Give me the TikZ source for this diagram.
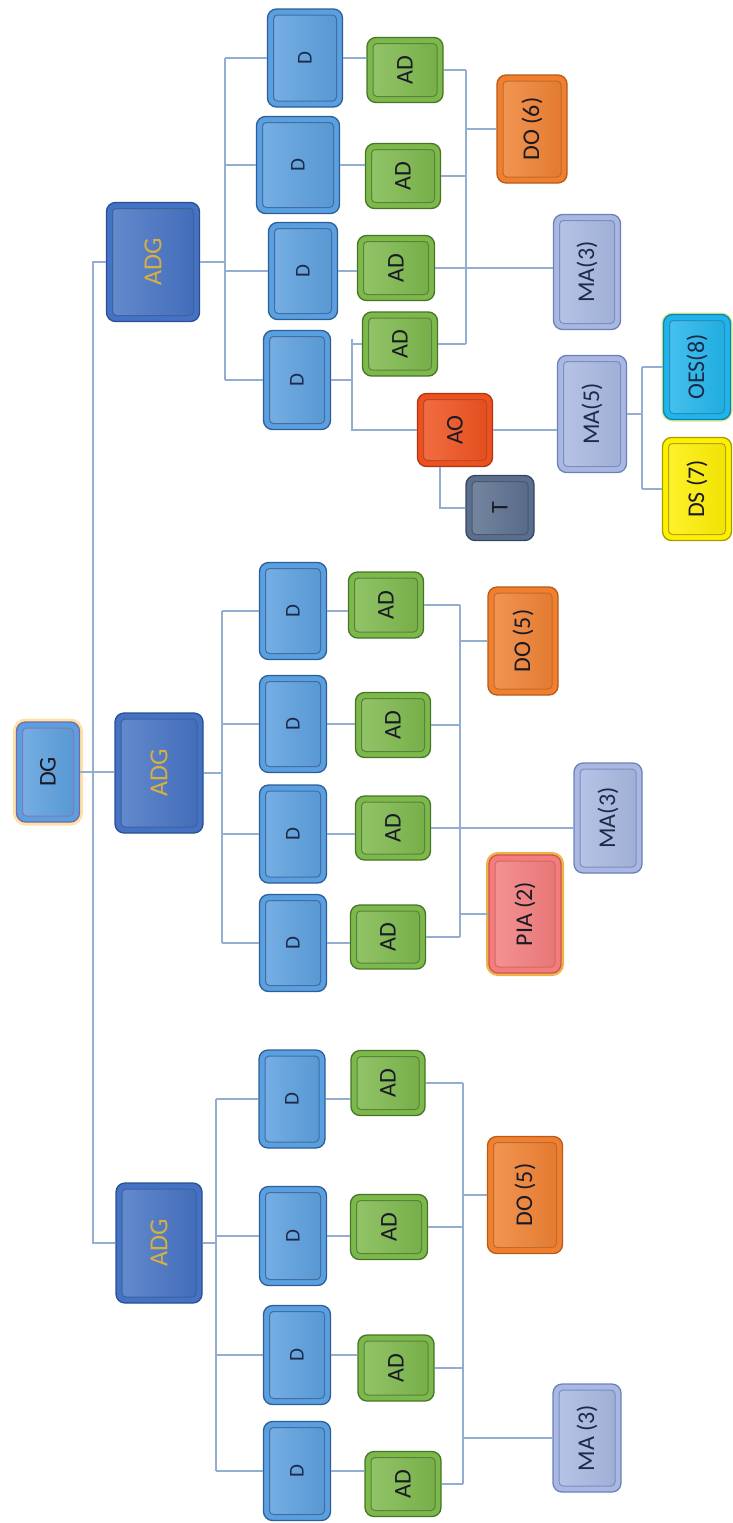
\documentclass[tikz,border=0pt]{standalone}
\usepackage{fontspec}
\setmainfont{Carlito}
\usepackage{graphicx}
\definecolor{lineblue}{HTML}{93AED1}
\definecolor{dfill}{HTML}{5A9FDF}
\definecolor{ddark}{HTML}{2E5E96}
\definecolor{gfill}{HTML}{7CB84A}
\definecolor{gdark}{HTML}{467528}
\definecolor{afill}{HTML}{4472C4}
\definecolor{adark}{HTML}{2B4F8F}
\definecolor{gold}{HTML}{D8B040}
\definecolor{dgborder}{HTML}{7B68A8}
\definecolor{dgglow}{HTML}{FFE2A8}
\definecolor{ofill}{HTML}{F08030}
\definecolor{odark}{HTML}{B85A18}
\definecolor{mfill}{HTML}{A8B8E2}
\definecolor{mdark}{HTML}{6E80B8}
\definecolor{pfill}{HTML}{F47C7C}
\definecolor{pdark}{HTML}{C85A50}
\definecolor{pglow}{HTML}{F2B048}
\definecolor{rfill}{HTML}{F0501C}
\definecolor{rdark}{HTML}{A83818}
\definecolor{tfill}{HTML}{5A6E8E}
\definecolor{tdark}{HTML}{36465F}
\definecolor{cfill}{HTML}{1FB5EC}
\definecolor{cdark}{HTML}{1080B0}
\definecolor{cglow}{HTML}{D8E890}
\definecolor{yfill}{HTML}{FFF000}
\definecolor{ydark}{HTML}{A89A00}
\definecolor{txt}{HTML}{1A1A24}
\definecolor{dtxt}{HTML}{1C2A4A}
\newcommand\rlab[1]{\rotatebox{90}{#1}}
\tikzset{
  bx/.style n args={4}{rectangle, rounded corners=9pt, draw=#2, line width=1.3pt,
    fill=#1, minimum width=#3pt, minimum height=#4pt, inner sep=0pt, text=txt,
    font=\fontsize{24}{26}\selectfont,
    path picture={
      \shade[rounded corners=4pt, left color=#1!82!white, right color=#1!94!black]
        ([shift={(6pt,-6pt)}]path picture bounding box.north west) rectangle
        ([shift={(-6pt,6pt)}]path picture bounding box.south east);
      \draw[rounded corners=4pt, #2!90, line width=1pt]
        ([shift={(6pt,-6pt)}]path picture bounding box.north west) rectangle
        ([shift={(-6pt,6pt)}]path picture bounding box.south east);
    }},
  dbox/.style 2 args={bx={dfill}{ddark}{#1}{#2}, text=dtxt, font=\fontsize{21}{22}\selectfont},
  adbox/.style 2 args={bx={gfill}{gdark}{#1}{#2}},
  adgbox/.style 2 args={bx={afill}{adark}{#1}{#2}, text=gold, font=\fontsize{26}{28}\selectfont},
  dgbox/.style 2 args={bx={dfill}{dgborder}{#1}{#2}, preaction={draw=dgglow, line width=7pt}},
  dobox/.style 2 args={bx={ofill}{odark}{#1}{#2}},
  mabox/.style 2 args={bx={mfill}{mdark}{#1}{#2}, text=dtxt},
  piabox/.style 2 args={bx={pfill}{pdark}{#1}{#2}, preaction={draw=pglow, line width=6pt}},
  aobox/.style 2 args={bx={rfill}{rdark}{#1}{#2}},
  tbox/.style 2 args={bx={tfill}{tdark}{#1}{#2}},
  oesbox/.style 2 args={bx={cfill}{cdark}{#1}{#2}, text=dtxt, preaction={draw=cglow, line width=4pt}},
  dsbox/.style 2 args={bx={yfill}{ydark}{#1}{#2}},
  conn/.style={draw=lineblue, line width=1.1pt}
}
\begin{document}
\begin{tikzpicture}[x=1pt,y=-1pt]
\useasboundingbox[fill=white] (0,0) rectangle (733,1523);

% coordinates for buses
\coordinate (tr) at (93,0);
\coordinate (b1) at (225,0);
\coordinate (r1) at (466,0);
\coordinate (c1) at (352,0);
\coordinate (tx) at (440,0);
\coordinate (c2) at (642,0);
\coordinate (b2) at (222,0);
\coordinate (r2) at (460,0);
\coordinate (b3) at (216,0);
\coordinate (r3) at (463,0);

% ---- nodes ----
\node[dgbox={63}{100}] (dg) at (48,772) {\rlab{DG}};
\node[adgbox={93}{119}] (adg1) at (153,262) {\rlab{ADG}};
\node[adgbox={88}{120}] (adg2) at (159,773) {\rlab{ADG}};
\node[adgbox={86}{120}] (adg3) at (159,1243) {\rlab{ADG}};

% top group
\node[dbox={75}{98}] (d11) at (305,58) {\rlab{D}};
\node[dbox={83}{97}] (d12) at (298,165) {\rlab{D}};
\node[dbox={69}{97}] (d13) at (303,271) {\rlab{D}};
\node[dbox={67}{99}] (d14) at (297,380) {\rlab{D}};
\node[adbox={76}{65}] (ad11) at (405,70) {\rlab{AD}};
\node[adbox={75}{65}] (ad12) at (403,176) {\rlab{AD}};
\node[adbox={77}{65}] (ad13) at (396,268) {\rlab{AD}};
\node[adbox={75}{64}] (ad14) at (400,344) {\rlab{AD}};
\node[dobox={70}{108}] (do6) at (532,129) {\rlab{DO (6)}};
\node[mabox={67}{115}] (ma3a) at (587,272) {\rlab{MA(3)}};
\node[aobox={75}{73}] (ao) at (455,430) {\rlab{AO}};
\node[tbox={68}{65}] (t) at (500,508) {\rlab{T}};
\node[mabox={69}{117}] (ma5) at (592,414) {\rlab{MA(5)}};
\node[oesbox={67}{105}] (oes) at (697,367) {\rlab{OES(8)}};
\node[dsbox={69}{103}] (ds) at (697,489) {\rlab{DS (7)}};

% middle group
\node[dbox={67}{97}] (d21) at (293,611) {\rlab{D}};
\node[dbox={67}{97}] (d22) at (293,724) {\rlab{D}};
\node[dbox={67}{98}] (d23) at (293,834) {\rlab{D}};
\node[dbox={67}{97}] (d24) at (293,943) {\rlab{D}};
\node[adbox={75}{66}] (ad21) at (386,605) {\rlab{AD}};
\node[adbox={75}{65}] (ad22) at (393,725) {\rlab{AD}};
\node[adbox={75}{64}] (ad23) at (393,828) {\rlab{AD}};
\node[adbox={75}{64}] (ad24) at (388,937) {\rlab{AD}};
\node[dobox={70}{108}] (do5a) at (523,641) {\rlab{DO (5)}};
\node[mabox={68}{110}] (ma3b) at (608,818) {\rlab{MA(3)}};
\node[piabox={72}{118}] (pia) at (525,914) {\rlab{PIA (2)}};

% bottom group
\node[dbox={66}{98}] (d31) at (292,1099) {\rlab{D}};
\node[dbox={67}{99}] (d32) at (293,1236) {\rlab{D}};
\node[dbox={67}{99}] (d33) at (297,1355) {\rlab{D}};
\node[dbox={67}{99}] (d34) at (297,1471) {\rlab{D}};
\node[adbox={74}{65}] (ad31) at (388,1083) {\rlab{AD}};
\node[adbox={77}{65}] (ad32) at (389,1227) {\rlab{AD}};
\node[adbox={76}{66}] (ad33) at (396,1368) {\rlab{AD}};
\node[adbox={76}{65}] (ad34) at (403,1484) {\rlab{AD}};
\node[dobox={75}{117}] (do5b) at (525,1195) {\rlab{DO (5)}};
\node[mabox={68}{108}] (ma3c) at (587,1438) {\rlab{MA (3)}};

% ---- connectors ----
\begin{scope}[conn]
% trunk
\draw (dg.east) -- (dg.east -| adg2.west);
\draw (adg1.west) -- (adg1.west -| tr) -- (tr |- adg3.west) -- (adg3.west);

% top group
\draw (adg1.east) -- (adg1.east -| b1);
\draw (b1 |- d11.west) -- (b1 |- d14.west);
\foreach \n in {d11,d12,d13,d14} \draw (b1 |- \n.west) -- (\n.west);
\draw (d11.east) -- (d11.east -| ad11.west);
\draw (d12.east) -- (d12.east -| ad12.west);
\draw (d13.east) -- (d13.east -| ad13.west);
\foreach \n in {ad11,ad12,ad14} \draw (\n.east) -- (\n.east -| r1);
\draw (r1 |- ad11.east) -- (r1 |- ad14.east);
\draw (ad13.east) -- (ad13.east -| ma3a.west);
\draw (r1 |- do6.west) -- (do6.west);
\draw (d14.east) -- (d14.east -| c1);
\draw ([yshift=5pt]c1 |- ad14.west) -- (c1 |- ao.west) -- (ao.west);
\draw (c1 |- ad14.west) -- (ad14.west);
\draw (ao.south -| tx) -- (tx |- t.west) -- (t.west);
\draw (ao.east) -- (ao.east -| ma5.west);
\draw (ma5.east) -- (ma5.east -| c2);
\draw (c2 |- oes.west) -- (c2 |- ds.west);
\draw (c2 |- oes.west) -- (oes.west);
\draw (c2 |- ds.west) -- (ds.west);

% middle group
\draw (adg2.east) -- (adg2.east -| b2);
\draw (b2 |- d21.west) -- (b2 |- d24.west);
\foreach \n in {d21,d22,d23,d24} \draw (b2 |- \n.west) -- (\n.west);
\draw (d21.east) -- (d21.east -| ad21.west);
\draw (d22.east) -- (d22.east -| ad22.west);
\draw (d23.east) -- (d23.east -| ad23.west);
\draw (d24.east) -- (d24.east -| ad24.west);
\foreach \n in {ad21,ad22,ad24} \draw (\n.east) -- (\n.east -| r2);
\draw (r2 |- ad21.east) -- (r2 |- ad24.east);
\draw (ad23.east) -- (ad23.east -| ma3b.west);
\draw (r2 |- do5a.west) -- (do5a.west);
\draw (r2 |- pia.west) -- (pia.west);

% bottom group
\draw (adg3.east) -- (adg3.east -| b3);
\draw (b3 |- d31.west) -- (b3 |- d34.west);
\foreach \n in {d31,d32,d33,d34} \draw (b3 |- \n.west) -- (\n.west);
\draw (d31.east) -- (d31.east -| ad31.west);
\draw (d32.east) -- (d32.east -| ad32.west);
\draw (d33.east) -- (d33.east -| ad33.west);
\draw (d34.east) -- (d34.east -| ad34.west);
\foreach \n in {ad31,ad32,ad33,ad34} \draw (\n.east) -- (\n.east -| r3);
\draw (r3 |- ad31.east) -- (r3 |- ad34.east);
\draw (r3 |- do5b.west) -- (do5b.west);
\draw (r3 |- ma3c.west) -- (ma3c.west);
\end{scope}
\end{tikzpicture}
\end{document}
